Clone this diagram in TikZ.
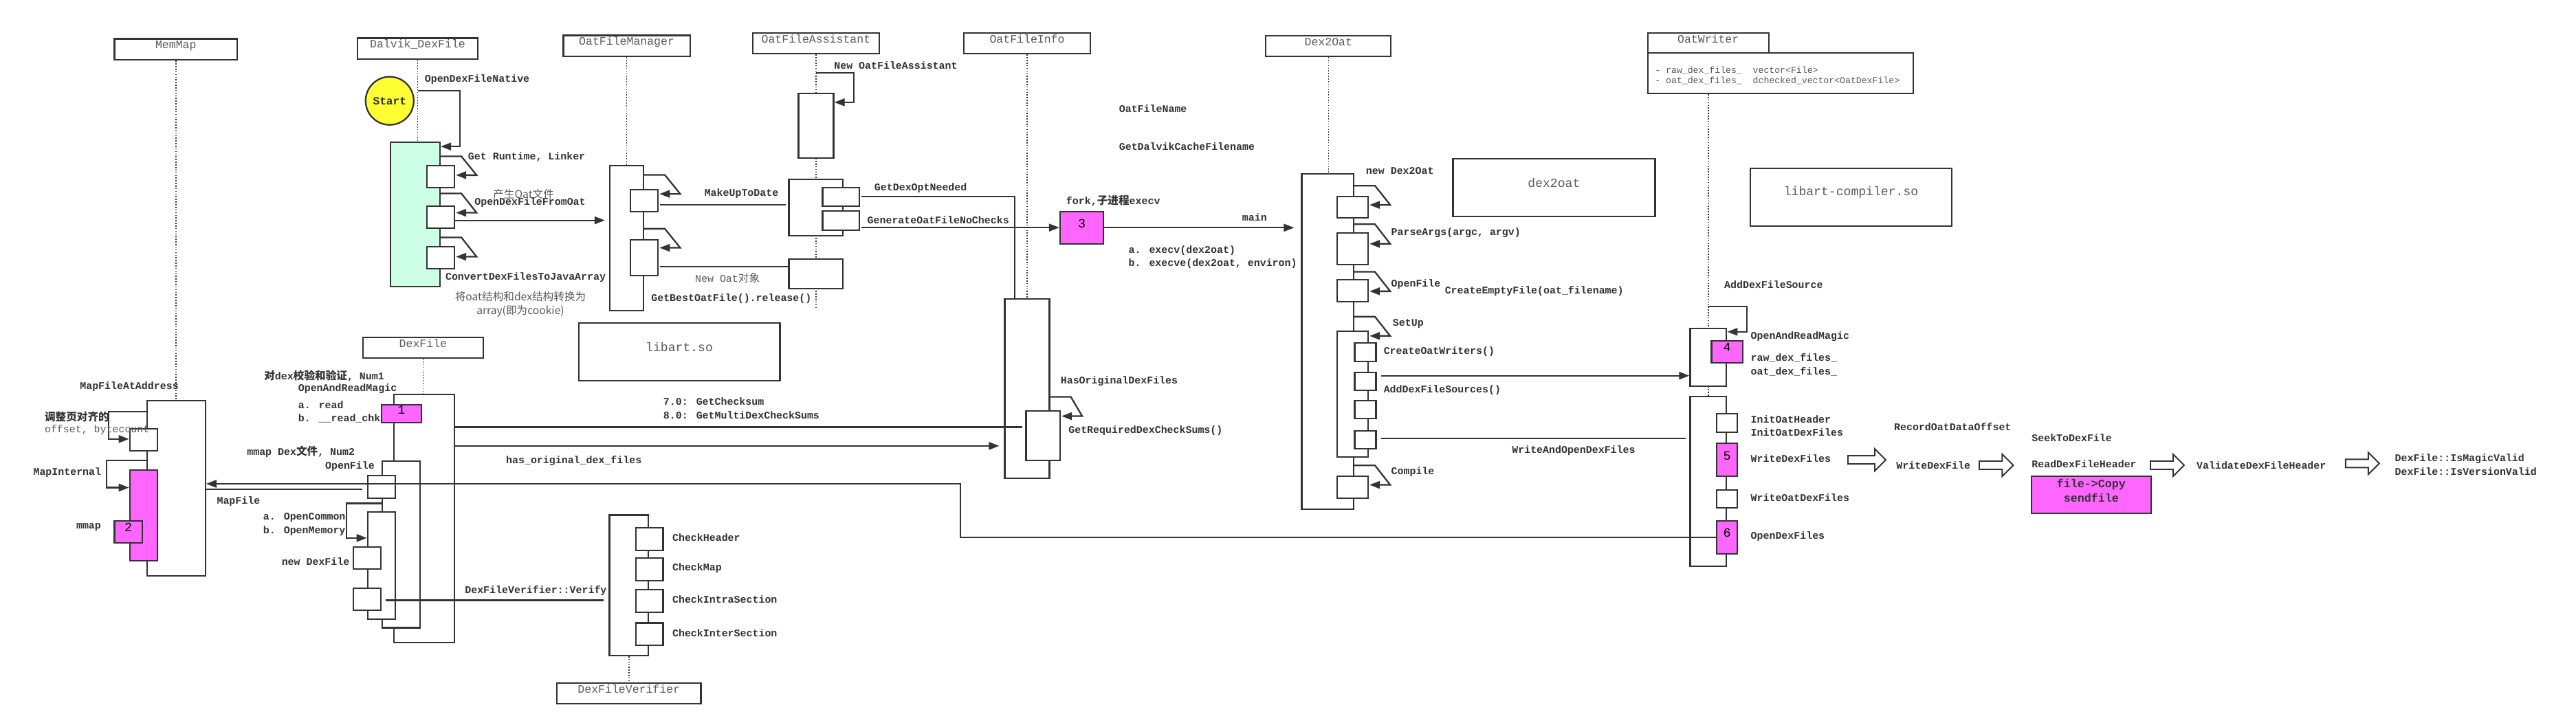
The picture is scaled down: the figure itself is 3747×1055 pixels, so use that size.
\documentclass[tikz,border=0pt]{standalone}
\usepackage{fontspec}
\setmainfont{Liberation Mono}
\newfontfamily\cjk{Noto Sans CJK SC}
\usetikzlibrary{arrows.meta,calc,fit}

\definecolor{ln}{HTML}{333333}
\definecolor{hd}{HTML}{5A5A5A}
\definecolor{actgreen}{HTML}{CCFFE6}
\definecolor{mag}{HTML}{FF66FF}
\definecolor{startyel}{HTML}{FFFF33}

\pgfdeclarelayer{back}
\pgfdeclarelayer{lifeline}
\pgfsetlayers{back,lifeline,main}

\newcommand\zh[1]{{\cjk\fontsize{8.9}{11}\selectfont #1}}
\newcommand\actbox[6][act]{\node[#1, fit={(#3,#4) (#5,#6)}] (#2) {};}
\newcommand\selfcall[4]{\draw[msg] ($(#1.east |- #2.north)+(0,-#3)$) -- ++(30,0) -- ($(#2.north east)+(31,#4)$) -- ($(#2.north east)+(1,#4)$);}
\newcommand\blkarrow[3]{\draw[blk] ({#1},{#2-6}) -- ({#1+#3-16},{#2-6}) -- ({#1+#3-16},{#2-16}) -- ({#1+#3},{#2}) -- ({#1+#3-16},{#2+16}) -- ({#1+#3-16},{#2+6}) -- ({#1},{#2+6}) -- cycle;}

\begin{document}
\begin{tikzpicture}[x=0.02cm, y=-0.02cm,
    act/.style={draw=ln, fill=white, line width=1.3pt, inner sep=0pt},
    greenact/.style={act, fill=actgreen},
    magact/.style={act, fill=mag, font=\fontsize{10.5}{12}\selectfont, text=black},
    head/.style={draw=ln, line width=1.3pt, inner sep=0pt, text=hd, font=\fontsize{9.4}{11}\selectfont},
    libbox/.style={draw=ln, line width=1.3pt, inner sep=0pt, text=hd, font=\fontsize{10.3}{12}\selectfont},
    life/.style={draw=ln, line width=0.9pt, dash pattern=on 0.9pt off 1.3pt},
    msg/.style={draw=ln, line width=1.3pt, -{Triangle[length=0.3cm, width=0.22cm]}},
    call/.style={draw=ln, line width=1.3pt},
    blk/.style={draw=ln, line width=1.1pt, fill=white, line join=miter},
    lbl/.style={anchor=west, inner sep=0pt, text=ln, font=\bfseries\fontsize{8.5}{11}\selectfont},
    note/.style={anchor=west, inner sep=0pt, text=hd, font=\fontsize{8.5}{11.4}\selectfont}]
\useasboundingbox (0,0) rectangle (3747,1055);
\begin{pgfonlayer}{back}
  \fill[white] (0,0) rectangle (3747,1055);
\end{pgfonlayer}

% lifeline heads
\node[head, fit={(166.6,56.5) (345,87.2)}] (hMemMap) {MemMap};
\node[head, fit={(519.8,55.4) (695.2,86.2)}] (hDalvik) {Dalvik\_DexFile};
\node[head, fit={(819.5,51.4) (1003.7,82.2)}] (hOFM) {OatFileManager};
\node[head, fit={(1094.8,47.7) (1279,78.3)}] (hOFA) {OatFileAssistant};
\node[head, fit={(1401.9,47.7) (1586.2,78.3)}] (hOFI) {OatFileInfo};
\node[head, fit={(1841.3,51.7) (2023.3,82)}] (hD2O) {Dex2Oat};
\node[head, fit={(2396.7,47.7) (2572.7,77.3)}] (hOW) {OatWriter};
\node[head, fit={(2396.7,77.3) (2783.3,136)}] (owBody) {};
\node[anchor=west, inner sep=0pt, align=left, text=hd, font=\fontsize{7.5}{9}\selectfont] (owFields) at (2407,110)
  {- raw\_dex\_files\_~~vector<File>\\- oat\_dex\_files\_~~dchecked\_vector<OatDexFile>};
\node[head, fit={(527.7,491) (703.1,521)}] (hDex) {DexFile};
\node[head, fit={(810,993.8) (1019.6,1023.9)}] (hVer) {DexFileVerifier};

% libraries
\node[libbox, fit={(841.8,470) (1134.4,553.8)}] (libart) {libart.so};
\node[libbox, fit={(2113.4,230.7) (2407.4,315)}] (dexoat) {dex2oat};
\node[libbox, fit={(2545.7,245) (2839.3,328.7)}] (libcomp) {libart-compiler.so};

\node[circle, draw=ln, fill=startyel, line width=1.3pt, minimum size=1.4cm, inner sep=0pt,
  text=ln, font=\bfseries\fontsize{9.2}{11}\selectfont] (start) at (566.8,146.7) {Start};

% MemMap
\actbox{mmAct}{214.3}{582.7}{298.7}{837.7}
\actbox{mmB1}{188.8}{623.7}{229}{656}
\actbox[magact]{mmMag}{188.8}{684}{229}{816}
\node[magact, fit={(166.5,757.7) (206.7,790)}] (mmNum2) {2};

% Dalvik_DexFile
\actbox[greenact]{dvAct}{567.7}{206.7}{640}{416.7}
\actbox{dvB1}{621}{241}{661.1}{273}
\actbox{dvB2}{621}{300}{661.1}{331.7}
\actbox{dvB3}{621}{358.7}{661.1}{390.7}

% OatFileManager
\actbox{ofmAct}{886.9}{240.7}{935.9}{451.7}
\actbox{ofmB1}{916.8}{275.7}{957.3}{307.7}
\actbox{ofmB2}{916.8}{348.7}{957.3}{400.7}

% OatFileAssistant
\actbox{ofaAct1}{1161.4}{136}{1212.5}{230}
\actbox{ofaAct2}{1147.6}{260.7}{1226.2}{343.3}
\actbox{ofaB1}{1196.4}{272.7}{1249.8}{300}
\actbox{ofaB2}{1196.4}{307.3}{1249.8}{335}
\actbox{ofaAct3}{1147.6}{376.7}{1226.2}{420}
\node[magact, fit={(1542,307.7) (1605.1,355)}] (fork) {3};

% OatFileInfo
\actbox{ofiAct}{1461.6}{434.7}{1526.5}{696}
\actbox{ofiB}{1492.6}{597.7}{1542}{670}

% Dex2Oat
\actbox{d2oAct}{1893.6}{252.7}{1968.8}{741}
\actbox{d2oB1}{1944.7}{285.7}{1990}{316.7}
\actbox{d2oB2}{1944.7}{339}{1990}{385.3}
\actbox{d2oB3}{1944.7}{407.3}{1990}{439}
\actbox{d2oSet}{1944.7}{482}{1990}{665.3}
\foreach \n/\a/\b in {1/499/525.7, 2/541.7/568.3, 3/583/609.3, 4/627/653.3}
  {\actbox{d2oI\n}{1970.5}{\a}{2001.5}{\b}}
\actbox{d2oB5}{1944.7}{693.3}{1990}{725}

% OatWriter
\actbox{owActA}{2458.4}{477.7}{2511.3}{562.3}
\node[magact, fit={(2489.4,495.7) (2534.8,528)}] (owNum4) {4};
\actbox{owActB}{2458.4}{576.7}{2511.3}{824.3}
\actbox{owB1}{2496.9}{601.7}{2527.3}{628.7}
\node[magact, fit={(2496.9,645) (2527.3,693.3)}] (owNum5) {5};
\actbox{owB3}{2496.9}{712.7}{2527.3}{739.3}
\node[magact, fit={(2496.9,757.7) (2527.3,806)}] (owNum6) {6};

% DexFile
\actbox{dexAct}{572.8}{574}{660.7}{934.7}
\node[magact, fit={(554.9,589.3) (612.9,615)}] (dexNum1) {1};
\actbox{openAct}{555.8}{670.7}{610.7}{913.5}
\actbox{ofBox}{534.8}{692.3}{575}{725}
\actbox{innerAct}{534.8}{745}{575}{900.7}
\actbox{ndBox}{513.8}{795.7}{554}{828}
\actbox{vBox}{514.2}{855.8}{554}{888}

% DexFileVerifier
\actbox{verAct}{886.5}{749.6}{943.1}{953.8}
\foreach \n/\a/\b in {1/768.3/800.9, 2/812.2/845.1, 3/858.2/890.8, 4/906.4/939}
  {\actbox{verB\n}{924.7}{\a}{964.6}{\b}}

\node[magact, fit={(2955,693.3) (3128.7,746.7)}, align=center, font=\bfseries\fontsize{9.5}{12}\selectfont, text=ln] (copyBox) {file->Copy\\sendfile};

% lifelines below the boxes
\coordinate (ofaEnd) at (1186.9,449);
\begin{pgfonlayer}{lifeline}
  \draw[life] (hMemMap.south) -- (hMemMap.south |- mmAct.north);
  \draw[life] (hDalvik.south) -- (hDalvik.south |- dvAct.north);
  \draw[life] (hOFM.south) -- (hOFM.south |- ofmAct.north);
  \draw[life] (hOFA.south) -- (ofaEnd);
  \draw[life] (hOFI.south) -- (hOFI.south |- ofiAct.north);
  \draw[life] (hD2O.south) -- (hD2O.south |- d2oAct.north);
  \draw[life] (hOW.south |- owBody.south) -- (hOW.south |- owActB.north);
  \draw[life] (hDex.south) -- (hDex.south |- dexAct.north);
  \draw[life] (verAct.south) -- (verAct.south |- hVer.north);
\end{pgfonlayer}

% self calls
\selfcall{dvAct}{dvB1}{12.3}{15}
\selfcall{dvAct}{dvB2}{17.3}{10.7}
\selfcall{dvAct}{dvB3}{12}{16}
\selfcall{ofmAct}{ofmB1}{20}{7.6}
\selfcall{ofmAct}{ofmB2}{14.7}{13}
\selfcall{ofiAct}{ofiB}{19}{9}
\selfcall{d2oAct}{d2oB1}{14.4}{13.6}
\selfcall{d2oAct}{d2oB2}{11.7}{17}
\selfcall{d2oAct}{d2oB3}{10.6}{17.7}
\selfcall{d2oAct}{d2oSet}{20}{8}
\selfcall{d2oAct}{d2oB5}{15}{13.4}

\coordinate (cNative) at (607.9,131.7);
\draw[msg] (cNative) -- ++(61.3,0) |- ($(dvAct.north east)+(0,7.6)$);
\coordinate (cNewOFA) at (1186.6,106);
\draw[msg] (cNewOFA) -- ++(55.1,0) |- ($(ofaAct1.north east)+(0,14)$);
\coordinate (cAddSrc) at (2485,445.7);
\draw[msg] (cAddSrc) -- ++(56,0) |- ($(owActA.north east)+(0,6.3)$);
\draw[msg] ($(mmAct.north west)+(0,17.3)$) -- ++(-55.3,0) |- ($(mmB1.north west)+(0,16.3)$);
\draw[msg] ($(mmAct.north west)+(0,88.3)$) -- ++(-58.5,0) |- ($(mmMag.north west)+(0,26.7)$);
\draw[msg] ($(openAct.north west)+(0,63)$) -- ++(-51,0) |- ($(innerAct.north west)+(0,39)$);

% messages
\draw[msg] ($(dvB2.east)+(0,4.8)$) -- ($(dvB2.east -| ofmAct.west)+(-6,4.8)$);
\draw[call] ($(ofmB1.east)+(2,6)$) -- ($(ofmB1.east -| ofaAct2.west)+(-3,6)$);
\draw[call] ($(ofmB2.east)+(2,13)$) -- ($(ofmB2.east -| ofaAct3.west)+(0,13)$);
\draw[call] ($(ofaB1.east)+(2,0)$) -| ($(ofiAct.north west)+(15.5,0)$);
\draw[msg] ($(ofaB2.east)+(2,10)$) -- ($(ofaB2.east -| fork.west)+(0,10)$);
\draw[msg] (fork.east) -- ($(fork.east -| d2oAct.west)+(-10,0)$);
\draw[call] ($(dexAct.north east)+(0,48.7)$) -- ($(dexAct.north east -| ofiB.west)+(-4,48.7)$);
\draw[msg] ($(dexAct.north east)+(0,76)$) -- ($(dexAct.north east -| ofiAct.west)+(-7,76)$);
\draw[msg] ($(d2oI2.east)+(6.3,-8.3)$) -- ($(d2oI2.east -| owActA.west)+(0,-8.3)$);
\draw[call] ($(d2oI4.east)+(6.3,-2.5)$) -- ($(d2oI4.east -| owActB.west)+(-5,-2.5)$);
\coordinate (cTurn) at (1397,704);
\draw[msg] (owNum6.west) -| (cTurn) -- (cTurn -| mmAct.east);
\draw[call] ($(mmAct.east |- ofBox.west)+(0,3)$) -- ($(ofBox.west)+(-7,3)$);
\draw[call] ($(vBox.east)+(5.6,1.6)$) -- ($(vBox.east -| verAct.west)+(-7,1.6)$);

\blkarrow{2688}{669.2}{55}
\blkarrow{2879}{677}{49.4}
\blkarrow{3128}{677}{49}
\blkarrow{3411.8}{674.3}{49}

% labels
\node[lbl] (tNative) at (617.5,116) {OpenDexFileNative};
\node[lbl] (tRuntime) at (680.6,228.3) {Get Runtime, Linker};
\node[note] (tGenOat) at (717,282.7) {\zh{产生Oat文件}};
\node[lbl] (tFromOat) at (690,294.3) {OpenDexFileFromOat};
\node[lbl] (tConvert) at (647.7,403.3) {ConvertDexFilesToJavaArray};
\node[note, anchor=center, align=center] (tCookie) at (757,442.3) {\zh{将oat结构和dex结构转换为}\\\zh{array(即为cookie)}};
\node[lbl] (tMakeUp) at (1024.4,281.3) {MakeUpToDate};
\node[note] (tNewOat) at (1010.8,405) {New Oat\zh{对象}};
\node[lbl] (tBest) at (947,434.4) {GetBestOatFile().release()};
\node[lbl] (tNewOFA) at (1213,95.3) {New OatFileAssistant};
\node[lbl] (tOptNeeded) at (1271.6,273.3) {GetDexOptNeeded};
\node[lbl] (tGenerate) at (1261.3,320.3) {GenerateOatFileNoChecks};
\node[lbl] (tFork) at (1550.6,292.3) {fork,\zh{子进程}execv};
\node[lbl] (tMain) at (1806.6,315.7) {main};
\node[lbl, align=left] (tExec) at (1641.3,373.8) {a. execv(dex2oat)\\b. execve(dex2oat, environ)};
\node[lbl] (tOatName) at (1627.5,157.7) {OatFileName};
\node[lbl] (tCacheName) at (1627.5,213.3) {GetDalvikCacheFilename};
\node[lbl] (tNewD2O) at (1986.6,248.7) {new Dex2Oat};
\node[lbl] (tParse) at (2023.3,339) {ParseArgs(argc, argv)};
\node[lbl] (tOpenFile) at (2023.3,413.3) {OpenFile};
\node[lbl] (tCreateEmpty) at (2101.4,423.7) {CreateEmptyFile(oat\_filename)};
\node[lbl] (tSetUp) at (2025.6,470.7) {SetUp};
\node[lbl] (tCreateW) at (2012.4,511.7) {CreateOatWriters()};
\node[lbl] (tAddSrcs) at (2012.4,567.3) {AddDexFileSources()};
\node[lbl] (tWriteOpen) at (2199,655.7) {WriteAndOpenDexFiles};
\node[lbl] (tCompile) at (2023.3,686.7) {Compile};
\node[lbl] (tAddSrc) at (2507.8,413.7) {AddDexFileSource};
\node[lbl] (tMagic) at (2546.3,489.3) {OpenAndReadMagic};
\node[lbl, align=left] (tRaw) at (2546.3,530.9) {raw\_dex\_files\_\\oat\_dex\_files\_};
\node[lbl, align=left] (tInit) at (2546.3,619.8) {InitOatHeader\\InitOatDexFiles};
\node[lbl] (tWriteDex) at (2546.3,667.3) {WriteDexFiles};
\node[lbl] (tWriteOat) at (2546.3,724) {WriteOatDexFiles};
\node[lbl] (tOpenDex) at (2546.3,781) {OpenDexFiles};
\node[lbl] (tRecord) at (2754.8,620.7) {RecordOatDataOffset};
\node[lbl] (tWriteDexFile) at (2758.1,676.7) {WriteDexFile};
\node[lbl] (tSeek) at (2955,636.7) {SeekToDexFile};
\node[lbl] (tReadHdr) at (2955,675) {ReadDexFileHeader};
\node[lbl] (tValidate) at (3194.8,676.7) {ValidateDexFileHeader};
\node[lbl, align=left] (tValid) at (3483.3,676.3) {DexFile::IsMagicValid\\DexFile::IsVersionValid};
\node[lbl] (tHasOrig) at (1542.5,554.3) {HasOriginalDexFiles};
\node[lbl] (tReqSums) at (1554,626.7) {GetRequiredDexCheckSums()};
\node[lbl, align=left] (tChecksum) at (964.6,594) {7.0: GetChecksum\\8.0: GetMultiDexCheckSums};
\node[lbl] (tHasFiles) at (735.8,670.6) {has\_original\_dex\_files};
\node[lbl] (tMapFile) at (315.2,729.3) {MapFile};
\node[lbl] (tMmapDex) at (359,657.3) {mmap Dex\zh{文件}, Num2};
\node[lbl] (tOpenFileD) at (472.8,678.3) {OpenFile};
\node[lbl, align=left] (tOpenCM) at (382.6,763) {a. OpenCommon\\b. OpenMemory};
\node[lbl] (tNewDex) at (409.4,817.3) {new DexFile};
\node[lbl] (tVerify) at (676,859.7) {DexFileVerifier::Verify};
\foreach \n/\t in {1/CheckHeader, 2/CheckMap, 3/CheckIntraSection, 4/CheckInterSection}
  {\node[lbl] (tChk\n) at ($(verB\n.east)+(12,-2)$) {\t};}
\node[lbl] (tNum1) at (384,546.7) {\zh{对}dex\zh{校验和验证}, Num1};
\node[lbl] (tReadMagic) at (433.5,566) {OpenAndReadMagic};
\node[lbl, align=left] (tRead) at (433.5,599.7) {a. read\\b. \_\_read\_chk};
\node[lbl] (tMapAt) at (116,563) {MapFileAtAddress};
\node[lbl] (tAlign) at (64.7,606) {\zh{调整页对齐的}};
\node[note] (tOffset) at (64.7,625.3) {offset, bytecount};
\node[lbl] (tMapInt) at (48.2,687.3) {MapInternal};
\node[lbl] (tMmap) at (110.7,766.7) {mmap};
\end{tikzpicture}
\end{document}
